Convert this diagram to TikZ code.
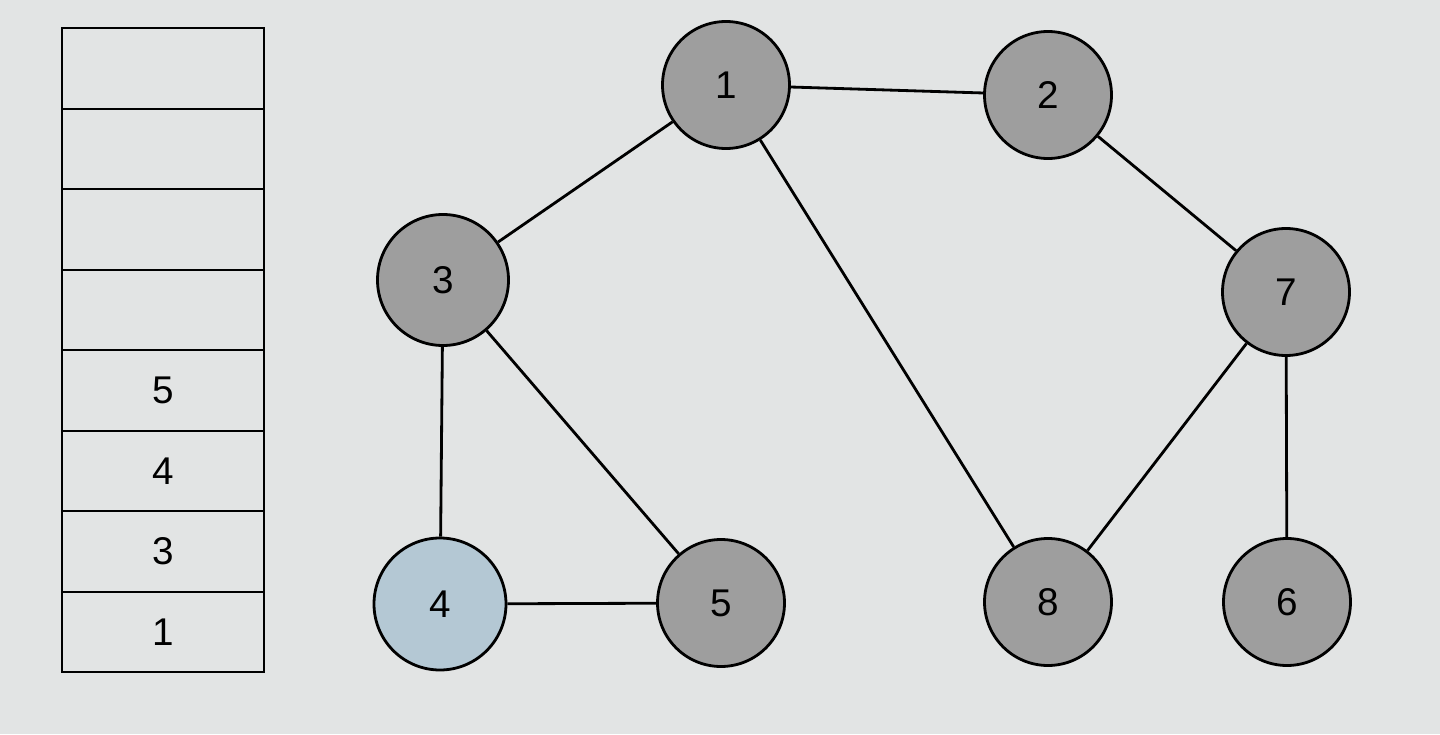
\documentclass[tikz,border=0pt]{standalone}
\usepackage{fontspec}
\setmainfont{Liberation Sans}
\usepackage{xcolor}
\usetikzlibrary{positioning}

\definecolor{paper}{RGB}{226,228,228}
\definecolor{nodegray}{RGB}{158,158,158}
\definecolor{nodeblue}{RGB}{180,200,212}

\begin{document}
\begin{tikzpicture}[line width=1.6pt,
    vertex/.style={circle, draw, fill=nodegray, minimum size=2.54cm, inner sep=0pt,
        font=\fontsize{22}{26}\selectfont},
    cell/.style={rectangle, draw, line width=1pt, minimum width=4.04cm, minimum height=1.61cm,
        inner sep=0pt, font=\fontsize{22}{26}\selectfont}]
    \fill[paper] (0,0) rectangle (28.8,14.68);
    \useasboundingbox (0,0) rectangle (28.8,14.68);

    % stack
    \foreach \i/\v in {1/1,2/3,3/4,4/5,5/,6/,7/,8/} {
        \node[cell] (cell\i) at (3.26, 2.04+1.61*\i-1.61) {\v};
    }

    % graph
    \node[vertex] (n1) at (14.52,12.98) {1};
    \node[vertex] (n2) at (20.96,12.78) {2};
    \node[vertex, minimum size=2.62cm] (n3) at (8.86,9.08) {3};
    \node[vertex] (n7) at (25.72,8.84) {7};
    \node[vertex, fill=nodeblue, minimum size=2.64cm] (n4) at (8.80,2.60) {4};
    \node[vertex] (n5) at (14.42,2.62) {5};
    \node[vertex] (n8) at (20.96,2.64) {8};
    \node[vertex] (n6) at (25.74,2.64) {6};

    \draw (n1) -- (n2);
    \draw (n1) -- (n3);
    \draw (n1) -- (n8);
    \draw (n2) -- (n7);
    \draw (n3) -- (n4);
    \draw (n3) -- (n5);
    \draw (n4) -- (n5);
    \draw (n7) -- (n8);
    \draw (n7) -- (n6);
\end{tikzpicture}
\end{document}
